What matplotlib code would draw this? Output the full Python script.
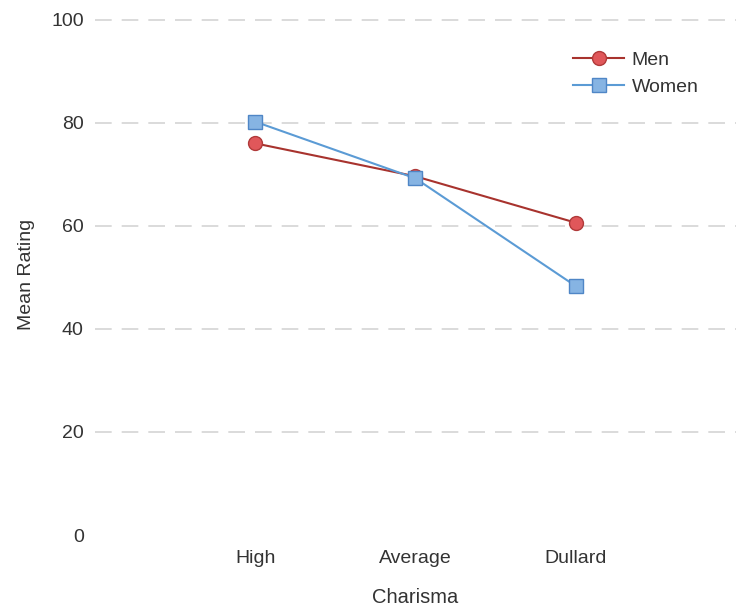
import matplotlib
matplotlib.use("Agg")
import matplotlib.pyplot as plt

# data
charisma = ["High", "Average", "Dullard"]
men = [76.0, 69.6, 60.6]
women = [80.2, 69.2, 48.3]
yticks = [0, 20, 40, 60, 80, 100]

plt.rcParams['font.family'] = ['Liberation Sans', 'DejaVu Sans']

fig = plt.figure(figsize=(7.36, 6.12), dpi=100)
ax = fig.add_axes([0.129, 0.1258, 0.871, 0.8505])

x = list(range(len(charisma)))
ax.plot(x, men, color="#a8332e", lw=1.5, marker="o", ms=10,
        mfc="#e0575a", mec="#b03a3a", mew=1.0, label="Men", zorder=3)
ax.plot(x, women, color="#5b9bd5", lw=1.5, marker="s", ms=10,
        mfc="#86b4e3", mec="#4f86c6", mew=1.0, label="Women", zorder=3)

ax.set_xlim(-1.0, 3.0)
ax.set_ylim(0, 101)
ax.set_xticks(x)
ax.set_xticklabels(charisma)
ax.set_yticks(yticks)

ax.yaxis.grid(True, color="#d4d4d4", lw=1.2, ls=(0, (10, 6)))
ax.set_axisbelow(True)
ax.yaxis.get_gridlines()[0].set_visible(False)

for s in ax.spines.values():
    s.set_visible(False)
ax.tick_params(length=0, labelsize=14, colors="#333333")
ax.tick_params(axis="x", pad=11)
ax.tick_params(axis="y", pad=8)

ax.set_xlabel("Charisma", fontsize=14.5, color="#333333", labelpad=15)
ax.set_ylabel("Mean Rating", fontsize=14, color="#333333", labelpad=12)

leg = ax.legend(loc="upper right", bbox_to_anchor=(0.973, 0.945),
                bbox_transform=fig.transFigure, frameon=False,
                fontsize=14, handlelength=2.6, labelspacing=0.5,
                handletextpad=0.4, labelcolor="#333333")

fig.savefig("out.png", dpi=100)
